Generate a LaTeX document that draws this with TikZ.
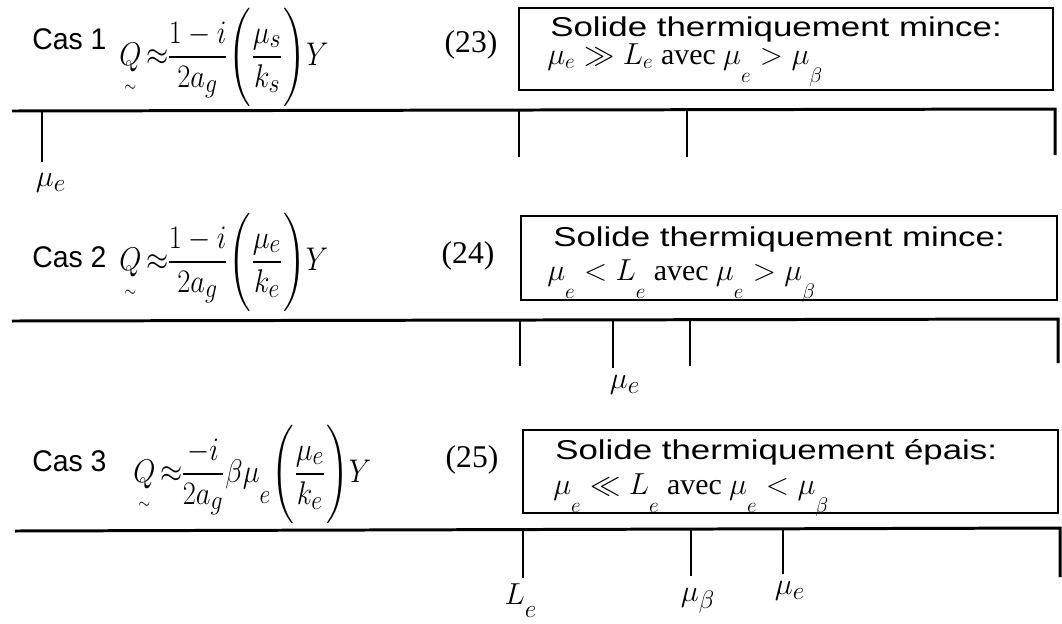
\documentclass[tikz,border=0pt]{standalone}
\usepackage{amsmath}
\usepackage{graphicx}
\usepackage{fontspec}
\setmainfont{Liberation Serif}
\newfontfamily\casfont[FakeStretch=0.95]{Liberation Sans}
\newfontfamily\boxfont[FakeStretch=1.28]{Liberation Sans}
\usetikzlibrary{fit}
\newcommand{\Qt}{\underset{\smash{\scriptscriptstyle\sim}}{Q}}
\newcommand{\lsb}[2]{#1_{\raisebox{-0.45em}{$\scriptstyle #2$}}}
\newcommand{\apx}{\mathrel{\mkern-2mu\approx\mkern-6mu}}
\newcommand{\eqbox}[1]{\scalebox{0.94}[1.08]{$#1$}}
\tikzset{
  ln/.style={line width=1.7pt},
  tk/.style={line width=1.2pt},
  bx/.style={draw, line width=1.4pt, inner sep=0pt},
  castxt/.style={anchor=base west, inner sep=0pt, font=\casfont\fontsize{17}{20}\selectfont},
  eqn/.style={anchor=west, inner sep=0pt, font=\fontsize{19}{23}\selectfont},
  eqnum/.style={anchor=center, inner sep=0pt, font=\fontsize{18}{21}\selectfont},
  head/.style={anchor=base west, inner sep=0pt, font=\boxfont\fontsize{15.5}{18}\selectfont},
  cond/.style={anchor=base west, inner sep=0pt, font=\fontsize{17}{20}\selectfont},
  lab/.style={anchor=center, inner sep=0pt, font=\fontsize{19}{22}\selectfont},
}
\begin{document}
\begin{tikzpicture}[x=0.02cm, y=-0.02cm]
\useasboundingbox (0,0) rectangle (1062,623);

% ---------------- Case 1 ----------------
\node[castxt] (cas1) at (32,49) {Cas 1};
\node[eqn] (eq1) at (119,57) {\eqbox{\Qt \apx \dfrac{1-i}{2a_g}\Biggl(\dfrac{\mu_s}{k_s}\Biggr)Y}};
\node[eqnum] (n23) at (471,45) {(23)};
\node[bx, fit={(519,8) (1053,90)}] (box1) {};
\node[head] (h1) at (550,36) {Solide thermiquement mince:};
\node[cond] (c1) at (547,64) {$\mu_e \gg L_e$ avec $\lsb{\mu}{e} > \lsb{\mu}{\beta}$};
\coordinate (l1a) at (12,111);
\coordinate (l1b) at (1055,109);
\coordinate (l1c) at (1055,155);
\draw[ln] (l1a) -- (l1b) -- (l1c);
\coordinate (t1a) at (42,111);  \coordinate (t1aa) at (42,162);
\coordinate (t1b) at (519,110); \coordinate (t1bb) at (519,157);
\coordinate (t1c) at (687,110); \coordinate (t1cc) at (687,157);
\draw[tk] (t1a) -- (t1aa);
\draw[tk] (t1b) -- (t1bb);
\draw[tk] (t1c) -- (t1cc);
\node[lab] (m1) at (51,183) {$\mu_e$};

% ---------------- Case 2 ----------------
\node[castxt] (cas2) at (32,267) {Cas 2};
\node[eqn] (eq2) at (119,262) {\eqbox{\Qt \apx \dfrac{1-i}{2a_g}\Biggl(\dfrac{\mu_e}{k_e}\Biggr)Y}};
\node[eqnum] (n24) at (468,256) {(24)};
\node[bx, fit={(521,216) (1057,300)}] (box2) {};
\node[head] (h2) at (553,246) {Solide thermiquement mince:};
\node[cond] (c2) at (547,280) {$\lsb{\mu}{e} < \lsb{L}{e}$ avec $\lsb{\mu}{e} > \lsb{\mu}{\beta}$};
\coordinate (l2a) at (12,321);
\coordinate (l2b) at (1058,319);
\coordinate (l2c) at (1058,363);
\draw[ln] (l2a) -- (l2b) -- (l2c);
\coordinate (t2a) at (520,320); \coordinate (t2aa) at (520,366);
\coordinate (t2b) at (613,320); \coordinate (t2bb) at (613,368);
\coordinate (t2c) at (690,320); \coordinate (t2cc) at (690,366);
\draw[tk] (t2a) -- (t2aa);
\draw[tk] (t2b) -- (t2bb);
\draw[tk] (t2c) -- (t2cc);
\node[lab] (m2) at (625,385) {$\mu_e$};

% ---------------- Case 3 ----------------
\node[castxt] (cas3) at (32,471) {Cas 3};
\node[eqn] (eq3) at (133,474) {\eqbox{\Qt \apx \dfrac{-i}{2a_g}\beta\lsb{\mu}{e}\Biggl(\dfrac{\mu_e}{k_e}\Biggr)Y}};
\node[eqnum] (n25) at (472,460) {(25)};
\node[bx, fit={(523,430) (1058,513)}] (box3) {};
\node[head] (h3) at (555,459) {Solide thermiquement épais:};
\node[cond] (c3) at (553,494) {$\lsb{\mu}{e} \ll \lsb{L}{e}$ avec $\lsb{\mu}{e} < \lsb{\mu}{\beta}$};
\coordinate (l3a) at (15,531);
\coordinate (l3b) at (1060,528);
\coordinate (l3c) at (1060,577);
\draw[ln] (l3a) -- (l3b) -- (l3c);
\coordinate (t3a) at (523,530); \coordinate (t3aa) at (523,578);
\coordinate (t3b) at (691,529); \coordinate (t3bb) at (691,576);
\coordinate (t3c) at (783,529); \coordinate (t3cc) at (783,574);
\draw[tk] (t3a) -- (t3aa);
\draw[tk] (t3b) -- (t3bb);
\draw[tk] (t3c) -- (t3cc);
\node[lab] (m3a) at (521,601) {$L_{\raisebox{-0.25em}{$\scriptstyle e$}}$};
\node[lab] (m3b) at (698,601) {$\mu_\beta$};
\node[lab] (m3c) at (790,591) {$\mu_e$};
\end{tikzpicture}
\end{document}
